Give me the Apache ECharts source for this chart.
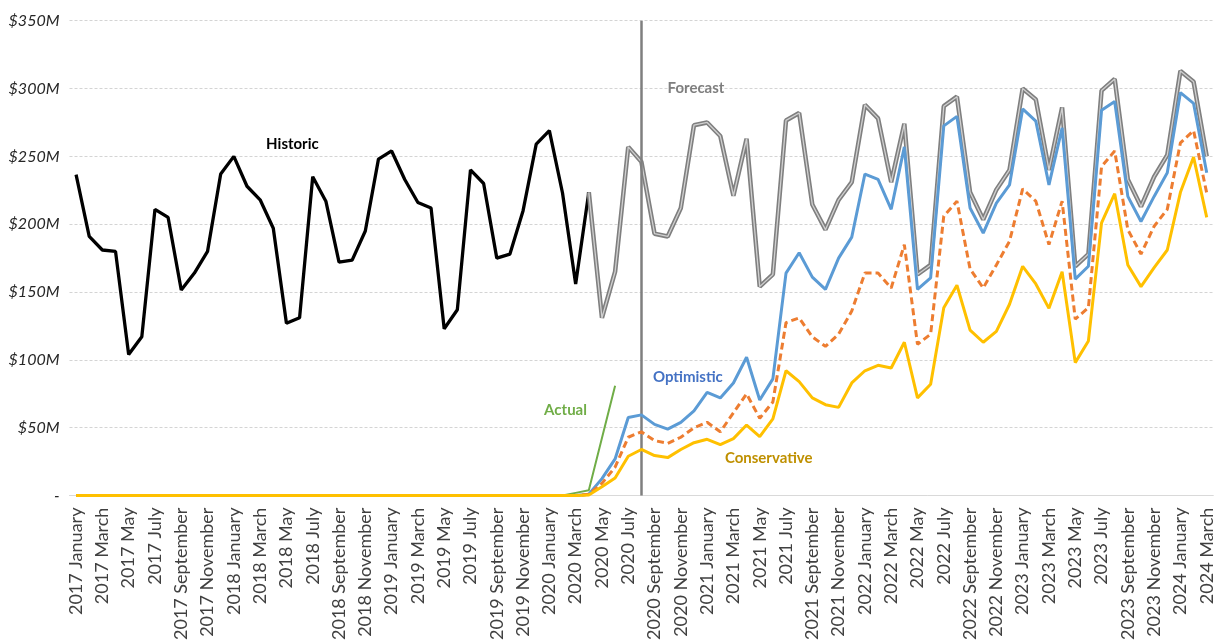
<!DOCTYPE html>
<html>
<head>
<meta charset="utf-8">
<script src="https://cdn.jsdelivr.net/npm/echarts@6/dist/echarts.min.js"></script>
<style>
  html, body { margin: 0; padding: 0; background: #ffffff; }
  #chart { width: 1218px; height: 643px; }
</style>
</head>
<body>
<div id="chart"></div>
<script>
// Month categories, January 2017 through March 2024
const monthNames = ['January', 'February', 'March', 'April', 'May', 'June',
  'July', 'August', 'September', 'October', 'November', 'December'];
const months = [];
for (let y = 2017; y <= 2024; y++) {
  for (let m = 0; m < 12; m++) {
    if (y === 2024 && m > 2) break;
    months.push(y + ' ' + monthNames[m]);
  }
}

// Y-axis ticks ($M)
const yTicks = [0, 50, 100, 150, 200, 250, 300, 350];

// Historic revenue ($M), 2017 January – 2020 April
const historic = [236.5, 191, 181, 180, 104, 117, 211, 205, 151.5, 164, 180, 237,
  250, 228, 218, 197, 127, 131, 235, 217, 172, 173.5, 195, 248,
  254, 233, 216, 212, 123, 137, 240, 230, 175, 178, 210, 259,
  269, 223, 156, 223.5];

// Baseline forecast ($M), 2020 April – 2024 March
const forecast = [223.5, 131, 165, 257, 246, 193, 191, 212, 273,
  275, 265, 221, 263, 154, 163, 276.5, 282, 214.5, 196, 218, 231,
  288, 278, 231, 274, 163, 170, 287, 294, 223.5, 203.5, 225.5, 240,
  300, 292, 240, 286, 169, 178, 298.5, 307, 233, 213, 235, 251,
  313, 305, 250];

// Scenario values ($M), 2020 April – 2024 March (zero before)
const optimistic = [1, 12.5, 27, 57.5, 59.5, 52.5, 49, 54, 62.5,
  76, 72, 83, 102, 70.5, 86, 164, 179, 161, 152, 175, 190.5,
  237, 233, 211, 257, 152, 160.5, 272.5, 279.5, 212, 193.5, 215.5, 229,
  285, 276, 229, 271, 159.5, 169, 284, 290.5, 220.5, 202, 220.5, 238,
  297, 289, 238];
const midCase = [1, 9, 21, 43, 47, 40.5, 38.5, 43, 50,
  54, 47, 61, 75, 57, 69, 127.5, 131, 117, 110, 119, 136,
  164, 164, 153, 185, 111.5, 119, 206, 217, 167, 153, 170, 187.5,
  226, 217, 185, 217, 130, 138.5, 242.5, 254, 196, 178, 198.5, 211,
  260, 269, 223];
const conservative = [0.5, 6.5, 13, 29, 34, 29.5, 28, 34, 39,
  41.5, 37.5, 42, 52, 43.5, 56.5, 92, 84, 72, 67, 65, 83,
  92, 96, 94, 113, 72, 82, 138.5, 155, 122, 113, 121, 141,
  169, 156, 138, 165, 98, 114, 201, 222.5, 170, 154, 168, 181,
  223.5, 249.5, 205];

// Actual results ($M), 2020 March – 2020 June (zero before)
const actual = [2, 4, 42.5, 81];

const scenarioStart = 39;   // index of 2020 April
const actualStart = 38;     // index of 2020 March
const splitMonth = '2020 August';

function pad(arr, start, fill) {
  const out = [];
  for (let i = 0; i < start; i++) out.push(fill);
  return out.concat(arr);
}

const historicData = historic.concat(new Array(months.length - historic.length).fill(null));
const forecastData = pad(forecast, months.length - forecast.length, null);
const optimisticData = pad(optimistic, scenarioStart, 0);
const midData = pad(midCase, scenarioStart, 0);
const conservativeData = pad(conservative, scenarioStart, 0);
const actualData = pad(actual, actualStart, 0);

const FONT = 'Lato, "Open Sans", sans-serif';

function note(text, color, cat, val, dx) {
  return {
    symbol: 'circle', symbolSize: 0, silent: true,
    label: { show: true, position: 'inside', offset: [dx, 0], formatter: text,
      color: color, fontFamily: FONT, fontWeight: 'bold', fontSize: 15 },
    data: [{ coord: [cat, val] }]
  };
}

const chart = echarts.init(document.getElementById('chart'), null, { renderer: 'canvas' });
chart.setOption({
  backgroundColor: '#ffffff',
  animation: false,
  grid: { left: 69.5, right: 4.7, top: 20.7, bottom: 146.3, containLabel: false },
  xAxis: {
    type: 'category',
    data: months,
    boundaryGap: true,
    axisLine: { show: true, lineStyle: { color: '#d9d9d9', width: 1 } },
    axisTick: { show: false },
    axisLabel: {
      interval: 1, rotate: 90, margin: 12,
      color: '#404040', fontFamily: FONT, fontSize: 18
    },
    splitLine: { show: false }
  },
  yAxis: {
    type: 'value',
    min: yTicks[0], max: yTicks[yTicks.length - 1], interval: 50,
    axisLine: { show: false },
    axisTick: { show: false },
    axisLabel: {
      margin: 10,
      color: '#262626', fontFamily: FONT, fontSize: 16, fontStyle: 'italic',
      formatter: v => (v === 0 ? '-' : '$' + v + 'M')
    },
    splitLine: { show: true, lineStyle: { color: '#d4d4d4', type: [3, 2], width: 1 } }
  },
  series: [
    {
      name: 'Historic', type: 'line', data: historicData, showSymbol: false,
      lineStyle: { color: '#000000', width: 3.3 }, z: 3,
      markPoint: note('Historic', '#000000', '2018 May', 259, 6)
    },
    {
      name: 'Forecast', type: 'line', data: forecastData, showSymbol: false,
      lineStyle: { color: '#7f7f7f', width: 4.5 }, z: 3,
      markPoint: note('Forecast', '#7f7f7f', '2020 December', 300, 2),
      markLine: {
        silent: true, symbol: 'none', label: { show: false },
        lineStyle: { color: '#7f7f7f', width: 2.5, type: 'solid' },
        data: [{ xAxis: splitMonth }]
      }
    },
    {
      name: 'Forecast inner', type: 'line', data: forecastData, showSymbol: false,
      lineStyle: { color: '#d0d0d0', width: 1.3 }, z: 4
    },
    {
      name: 'Actual', type: 'line', data: actualData, showSymbol: false,
      lineStyle: { color: '#70ad47', width: 2 }, z: 5,
      markPoint: note('Actual', '#70ad47', '2020 February', 63, 3)
    },
    {
      name: 'Optimistic', type: 'line', data: optimisticData, showSymbol: false,
      lineStyle: { color: '#5b9bd5', width: 3 }, z: 6,
      markPoint: note('Optimistic', '#4472c4', '2020 November', 87, 7)
    },
    {
      name: 'Mid', type: 'line', data: midData, showSymbol: false,
      lineStyle: { color: '#ed7d31', width: 3, type: [7, 4] }, z: 7
    },
    {
      name: 'Conservative', type: 'line', data: conservativeData, showSymbol: false,
      lineStyle: { color: '#ffc000', width: 3 }, z: 8,
      markPoint: note('Conservative', '#bf9000', '2021 May', 27.7, 9)
    }
  ]
});
</script>
</body>
</html>
